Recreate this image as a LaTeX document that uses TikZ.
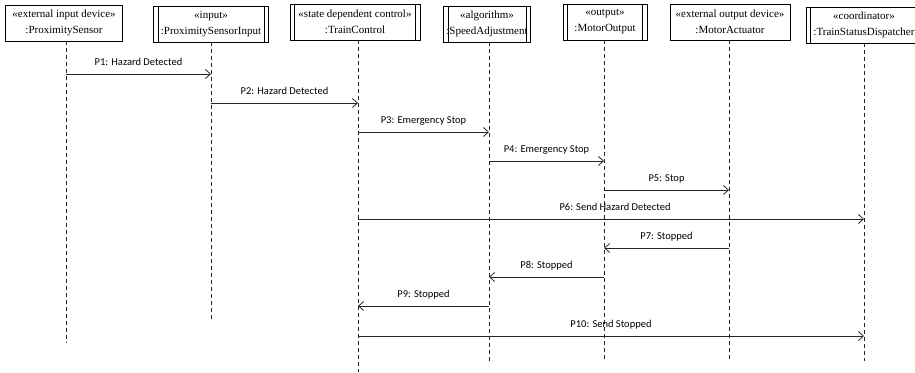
\documentclass[tikz,border=0pt]{standalone}
\usepackage{fontspec}
\setmainfont{Liberation Serif}
\newfontfamily\msgfont{Carlito}
\usetikzlibrary{arrows.meta,calc}
\begin{document}
\begin{tikzpicture}[x=1pt,y=-1pt,
  objbox/.style={draw, line width=0.8pt, fill=white, align=center, inner sep=0pt,
    minimum height=36pt, font=\fontsize{11}{16}\selectfont},
  lifeline/.style={line width=0.7pt, draw=black!85, dash pattern=on 4pt off 3pt},
  msg/.style={line width=0.8pt, draw=black!85, -{Straight Barb[length=5pt,width=9pt]}},
  msglabel/.style={font=\msgfont\fontsize{10.5}{12}\selectfont, anchor=base, yshift=9pt, inner sep=0pt},
  activebar/.style={line width=0.8pt},
]
\useasboundingbox (0,0) rectangle (915,372);
\clip (0,0) rectangle (915,372);

% object boxes
\node[objbox, minimum width=117pt] (ps)  at (64,23)  {«external input device»\\:ProximitySensor};
\node[objbox, minimum width=115pt] (psi) at (211,24) {«input»\\:ProximitySensorInput};
\node[objbox, minimum width=130pt] (tc)  at (355,22) {«state dependent control»\\:TrainControl};
\node[objbox, minimum width=87pt]  (sa)  at (487,24) {«algorithm»\\:SpeedAdjustment};
\node[objbox, minimum width=84pt]  (mo)  at (605,22) {«output»\\:MotorOutput};
\node[objbox, minimum width=120pt] (ma)  at (730,22) {«external output device»\\:MotorActuator};
\node[objbox, minimum width=116pt] (tsd) at (864,25) {«coordinator»\\:TrainStatusDispatcher};

% inner side bars of the active objects
\foreach \n in {psi,tc,sa,mo,tsd}{
  \draw[activebar] ($(\n.north west)+(5,0)$) -- ($(\n.south west)+(5,0)$);
  \draw[activebar] ($(\n.north east)+(-5,0)$) -- ($(\n.south east)+(-5,0)$);
}

% lifelines: each starts under its box and ends at a named point
\coordinate (ps-end)  at (66,343);
\coordinate (psi-end) at (211,320);
\coordinate (tc-end)  at (358,372);
\coordinate (sa-end)  at (489,361);
\coordinate (mo-end)  at (604,361);
\coordinate (ma-end)  at (729,361);
\coordinate (tsd-end) at (864,361);
\foreach \n in {ps,psi,tc,sa,mo,ma,tsd}{
  \draw[lifeline] (\n.south -| \n-end) -- (\n-end);
}

% message levels
\coordinate (y1)  at (0,74);
\coordinate (y2)  at (0,103);
\coordinate (y3)  at (0,132);
\coordinate (y4)  at (0,161);
\coordinate (y5)  at (0,190);
\coordinate (y6)  at (0,219);
\coordinate (y7)  at (0,248);
\coordinate (y8)  at (0,277);
\coordinate (y9)  at (0,306);
\coordinate (y10) at (0,336);

% messages
\draw[msg] (ps-end |- y1)  -- (psi-end |- y1) node[msglabel, midway] {P1: Hazard Detected};
\draw[msg] (psi-end |- y2) -- (tc-end |- y2)  node[msglabel, midway] {P2: Hazard Detected};
\draw[msg] (tc-end |- y3)  -- (sa-end |- y3)  node[msglabel, midway] {P3: Emergency Stop};
\draw[msg] (sa-end |- y4)  -- (mo-end |- y4)  node[msglabel, midway] {P4: Emergency Stop};
\draw[msg] (mo-end |- y5)  -- (ma-end |- y5)  node[msglabel, midway] {P5: Stop};
\draw[msg] (tc-end |- y6)  -- (tsd-end |- y6) node[msglabel, midway, xshift=4pt] {P6: Send Hazard Detected};
\draw[msg] (ma-end |- y7)  -- (mo-end |- y7)  node[msglabel, midway] {P7: Stopped};
\draw[msg] (mo-end |- y8)  -- (sa-end |- y8)  node[msglabel, midway] {P8: Stopped};
\draw[msg] (sa-end |- y9)  -- (tc-end |- y9)  node[msglabel, midway] {P9: Stopped};
\draw[msg] (tc-end |- y10) -- (tsd-end |- y10) node[msglabel, midway] {P10: Send Stopped};
\end{tikzpicture}
\end{document}
